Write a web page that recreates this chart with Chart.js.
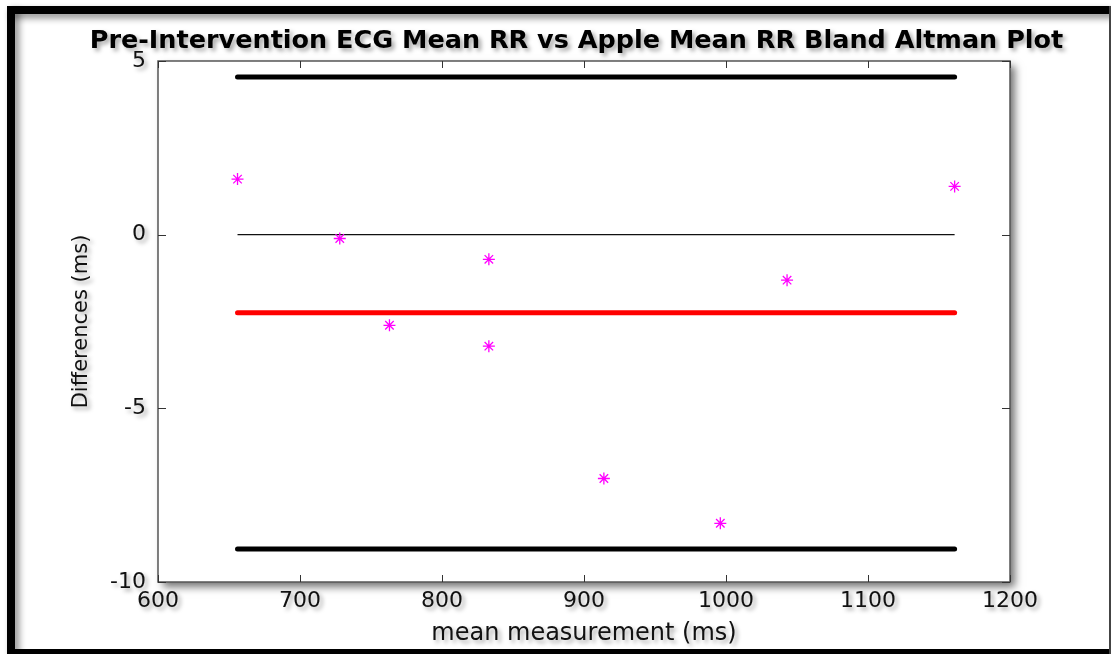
<!DOCTYPE html>
<html>
<head>
<meta charset="utf-8">
<script src="https://cdn.jsdelivr.net/npm/chart.js@4"></script>
<style>
html,body{margin:0;padding:0;background:#fff;overflow:hidden}
#wrap{width:1111px;height:654px;position:relative}
</style>
</head>
<body>
<div id="wrap"><canvas id="c" width="1111" height="654"></canvas></div>
<script>
// ---- data ----
const meanMeasurement = [656, 728, 763, 833, 833, 914, 996, 1043, 1161];
const differences     = [1.60, -0.11, -2.61, -0.71, -3.21, -7.02, -8.31, -1.31, 1.39];
const lineRangeX = [656, 1161];
const meanDifference = -2.25;
const upperLimit = 4.54;
const lowerLimit = -9.05;
const zeroLevel = 0;
const xTicks = [600, 700, 800, 900, 1000, 1100, 1200];
const yTicks = [-10, -5, 0, 5];
const titleText = 'Pre-Intervention ECG Mean RR vs Apple Mean RR Bland Altman Plot';
const xTitle = 'mean measurement (ms)';
const yTitle = 'Differences (ms)';

const hline = (y) => lineRangeX.map(x => ({x: x, y: y}));

const decor = {
  id: 'decor',
  beforeDraw(chart) {
    const ctx = chart.ctx, a = chart.chartArea, W = chart.width, H = chart.height;
    ctx.save();
    ctx.fillStyle = '#fff';
    ctx.fillRect(0, 0, W, H);
    // outer frame with inner shadow
    ctx.shadowColor = 'rgba(0,0,0,0.45)';
    ctx.shadowBlur = 7; ctx.shadowOffsetX = 4; ctx.shadowOffsetY = 4;
    ctx.fillStyle = '#000';
    ctx.fillRect(7, 6, W - 7, 8);     // top
    ctx.fillRect(7, 6, 8, H - 6);     // left
    ctx.shadowColor = 'rgba(0,0,0,0)';
    ctx.fillRect(7, H - 5, W - 7, 5); // bottom
    ctx.fillStyle = '#444';
    ctx.fillRect(W - 2, 6, 2, H - 6); // right
    // plot box with drop shadow
    ctx.shadowColor = 'rgba(0,0,0,0.55)';
    ctx.shadowBlur = 8; ctx.shadowOffsetX = 5; ctx.shadowOffsetY = 5;
    ctx.fillStyle = '#fff';
    ctx.fillRect(a.left, a.top, a.right - a.left, a.bottom - a.top);
    ctx.shadowColor = 'rgba(0,0,0,0)';
    ctx.lineWidth = 1.5;
    ctx.strokeStyle = '#555';
    ctx.strokeRect(a.left, a.top, a.right - a.left, a.bottom - a.top);
    ctx.restore();
    // soft shadow for the texts drawn by the scales and the title
    ctx.shadowColor = 'rgba(0,0,0,0.35)';
    ctx.shadowBlur = 4; ctx.shadowOffsetX = 3; ctx.shadowOffsetY = 3;
  },
  beforeDatasetsDraw(chart) {
    const ctx = chart.ctx, a = chart.chartArea;
    ctx.shadowColor = 'rgba(0,0,0,0)';
    ctx.shadowBlur = 0; ctx.shadowOffsetX = 0; ctx.shadowOffsetY = 0;
    const xs = chart.scales.x, ys = chart.scales.y;
    ctx.save();
    ctx.strokeStyle = '#333';
    ctx.lineWidth = 1;
    ctx.beginPath();
    xTicks.forEach(v => {
      const p = Math.round(xs.getPixelForValue(v)) + 0.5;
      ctx.moveTo(p, a.bottom); ctx.lineTo(p, a.bottom - 7);
      ctx.moveTo(p, a.top); ctx.lineTo(p, a.top + 7);
    });
    yTicks.forEach(v => {
      const p = Math.round(ys.getPixelForValue(v)) + 0.5;
      ctx.moveTo(a.left, p); ctx.lineTo(a.left + 8, p);
      ctx.moveTo(a.right, p); ctx.lineTo(a.right - 8, p);
    });
    ctx.stroke();
    ctx.restore();
  },
  afterDraw(chart) {
    const ctx = chart.ctx;
    ctx.shadowColor = 'rgba(0,0,0,0)';
    ctx.shadowBlur = 0; ctx.shadowOffsetX = 0; ctx.shadowOffsetY = 0;
  }
};

new Chart(document.getElementById('c'), {
  type: 'scatter',
  data: {
    datasets: [
      {
        label: 'Differences',
        data: meanMeasurement.map((x, i) => ({x: x, y: differences[i]})),
        pointStyle: 'star',
        pointRadius: 6,
        borderColor: '#ff00ff',
        backgroundColor: '#ff00ff',
        borderWidth: 1.3,
        showLine: false
      },
      {
        label: 'Zero',
        data: hline(zeroLevel),
        showLine: true, pointRadius: 0,
        borderColor: '#111', borderWidth: 1.2, borderCapStyle: 'butt'
      },
      {
        label: 'Mean difference',
        data: hline(meanDifference),
        showLine: true, pointRadius: 0,
        borderColor: '#ff0000', borderWidth: 5, borderCapStyle: 'round'
      },
      {
        label: 'Upper limit',
        data: hline(upperLimit),
        showLine: true, pointRadius: 0,
        borderColor: '#000', borderWidth: 5, borderCapStyle: 'round'
      },
      {
        label: 'Lower limit',
        data: hline(lowerLimit),
        showLine: true, pointRadius: 0,
        borderColor: '#000', borderWidth: 5, borderCapStyle: 'round'
      }
    ]
  },
  options: {
    responsive: false,
    animation: false,
    events: [],
    devicePixelRatio: 1,
    layout: {padding: {left: 42, right: 0, top: 0, bottom: 0}},
    plugins: {
      legend: {display: false},
      tooltip: {enabled: false},
      title: {
        display: true,
        text: titleText,
        color: '#000',
        fullSize: true,
        font: {family: 'DejaVu Sans', size: 25.5, weight: 'bold', lineHeight: 1.2},
        padding: {top: 26, bottom: 4.4}
      }
    },
    scales: {
      x: {
        type: 'linear',
        min: 600, max: 1200,
        afterBuildTicks: s => { s.ticks = xTicks.map(v => ({value: v})); },
        afterFit: s => { s.height = 72; },
        grid: {display: false, drawTicks: false},
        border: {display: false},
        ticks: {color: '#111', padding: 6, font: {family: 'DejaVu Sans', size: 22}, maxRotation: 0,
          callback: v => String(v)},
        title: {display: true, text: xTitle, color: '#111',
          font: {family: 'DejaVu Sans', size: 24}, padding: {top: 0, bottom: 6}}
      },
      y: {
        type: 'linear',
        position: 'left',
        min: -10, max: 5,
        afterBuildTicks: s => { s.ticks = yTicks.map(v => ({value: v})); },
        afterFit: s => { s.width = 116; },
        grid: {display: false, drawTicks: false},
        border: {display: false},
        ticks: {color: '#111', padding: 12, font: {family: 'DejaVu Sans', size: 22},
          callback: v => String(v)},
        title: {display: true, text: yTitle, color: '#111',
          font: {family: 'DejaVu Sans', size: 21}, padding: {top: 27, bottom: 0}}
      },
      y2: {
        type: 'linear',
        position: 'right',
        min: -10, max: 5,
        afterFit: s => { s.width = 101; },
        grid: {display: false, drawTicks: false},
        border: {display: false},
        ticks: {display: false}
      }
    }
  },
  plugins: [decor]
});
</script>
</body>
</html>
